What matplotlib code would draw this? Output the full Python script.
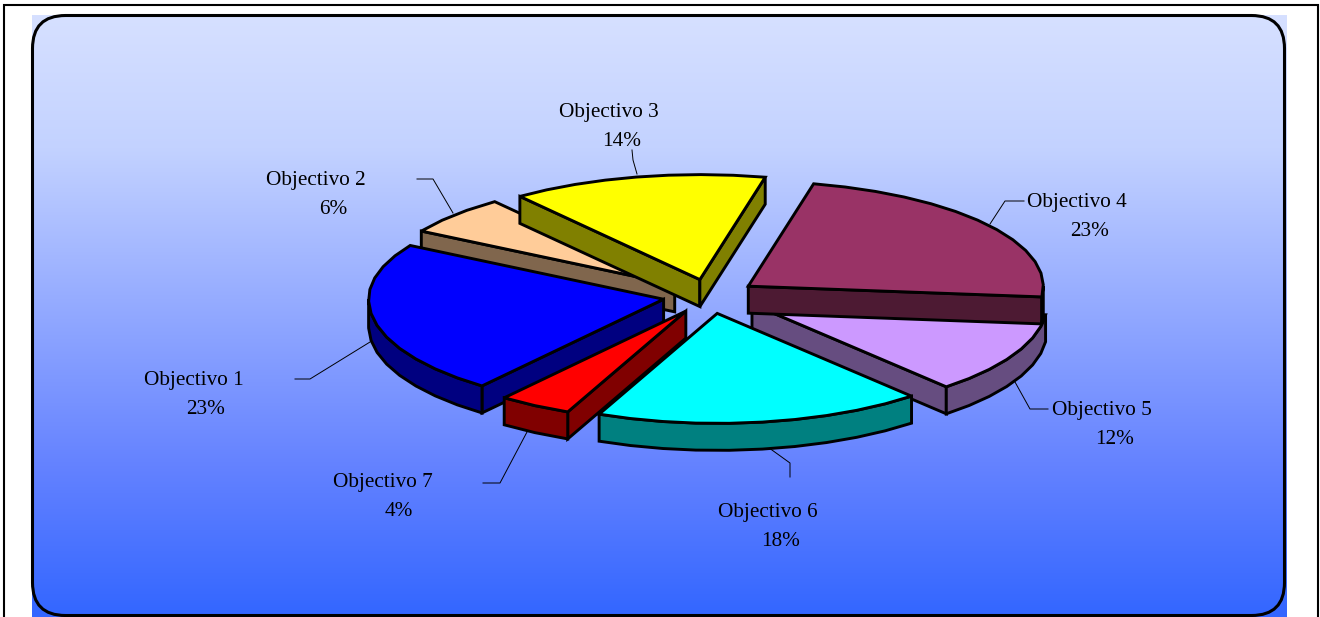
import numpy as np
import matplotlib
matplotlib.use('Agg')
import matplotlib.pyplot as plt
from matplotlib.colors import LinearSegmentedColormap, to_rgb
from matplotlib.patches import FancyBboxPatch, Polygon

plt.rcParams['font.family'] = ['Liberation Serif', 'DejaVu Serif']

names = ['Objectivo 1', 'Objectivo 2', 'Objectivo 3', 'Objectivo 4',
         'Objectivo 5', 'Objectivo 6', 'Objectivo 7']
shares = [23, 6, 14, 23, 12, 18, 4]
top_colors = ['#0000FF', '#FFCC99', '#FFFF00', '#993366', '#CC99FF', '#00FFFF', '#FF0000']

# where the labels sit: name centre x, percent centre x, name y
label_x = [193.5, 316, 609, 1077, 1102, 768, 383]
pct_x = [206, 333, 622, 1090, 1115, 781, 399]
label_y = [380, 180, 112, 202, 410, 512, 482]

leaders = [
    [(295, 379), (310, 379), (370, 342)],
    [(417, 179), (433, 179), (453, 213)],
    [(632, 150), (633, 160), (637, 174)],
    [(1024, 201), (1005, 201), (990, 224)],
    [(1048, 409), (1030, 409), (1015, 382)],
    [(765, 445), (790, 463), (790, 477)],
    [(483, 483), (500, 483), (527, 432)],
]

CX, CY = 710, 296
RX = 295
RY_FRONT, RY_BACK = 110, 105  # the far half looks a bit flatter
DEPTH = 27
EXPLODE = 0.16
START = -128  # degrees, going clockwise
STEP = 6
LW = 2.1
DRAW_ORDER = [1, 2, 0, 4, 3, 6, 5]


def wedge_arcs(values):
    ends = START - np.cumsum(values) / np.sum(values) * 360
    starts = np.r_[START, ends[:-1]]
    return starts, ends


def ellipse_y(t):
    s = np.sin(np.radians(t))
    return -np.where(s > 0, RY_BACK, RY_FRONT) * s


def draw_wedge(ax, t0, t1, color):
    mid = (t0 + t1) / 2
    ox = CX + EXPLODE * RX * np.cos(np.radians(mid))
    oy = CY + EXPLODE * ellipse_y(mid)

    n = max(int(abs(t1 - t0) / STEP), 2) + 1
    t = np.linspace(t0, t1, n)
    x = ox + RX * np.cos(np.radians(t))
    y = oy + ellipse_y(t)

    side = tuple(0.5 * c for c in to_rgb(color))
    style = dict(fc=side, ec='black', lw=LW, joinstyle='miter')

    # cut faces only when they look towards the viewer
    if np.cos(np.radians(t0)) < 0:
        ax.add_patch(Polygon([(ox, oy), (x[0], y[0]), (x[0], y[0] + DEPTH), (ox, oy + DEPTH)], **style))
    if np.cos(np.radians(t1)) > 0:
        ax.add_patch(Polygon([(ox, oy), (x[-1], y[-1]), (x[-1], y[-1] + DEPTH), (ox, oy + DEPTH)], **style))

    # rim, front half of the ellipse only
    tr = np.sort(np.r_[t, -180.0, 0.0, -360.0])
    tr = tr[(tr >= t1) & (tr <= t0)]
    tr = tr[np.sin(np.radians(tr)) < 1e-9]
    if len(tr) > 1:
        rx = ox + RX * np.cos(np.radians(tr))
        ry = oy + ellipse_y(tr)
        ax.add_patch(Polygon(np.r_[np.c_[rx, ry], np.c_[rx[::-1], ry[::-1] + DEPTH]], **style))

    top = np.r_[[[ox, oy]], np.c_[x, y]]
    ax.add_patch(Polygon(top, fc=color, ec='black', lw=LW, joinstyle='miter'))


fig = plt.figure(figsize=(13.2, 6.17), dpi=100)
ax = fig.add_axes([0, 0, 1, 1])

# outer page frame, open at the bottom
ax.plot([4, 4, 1318, 1318], [617, 5, 5, 617], color='black', lw=1.5, solid_joinstyle='miter')

cmap = LinearSegmentedColormap.from_list(
    'bg', [(0, '#D6E0FF'), (0.22, '#C3D2FF'), (0.75, '#6482FF'), (1, '#3366FF')])
ax.imshow(np.linspace(0, 1, 256).reshape(-1, 1), cmap=cmap, aspect='auto',
          extent=(32, 1287, 617, 15), zorder=1)
ax.set_xlim(0, 1320)
ax.set_ylim(617, 0)
ax.axis('off')
ax.add_patch(FancyBboxPatch((32.5, 15.5), 1252, 600, boxstyle='round,pad=0,rounding_size=33',
                            fc='none', ec='black', lw=2.2, zorder=2))

starts, ends = wedge_arcs(shares)

for pts in leaders:
    xs, ys = zip(*pts)
    ax.plot(xs, ys, color='black', lw=0.7, zorder=3)

for i in DRAW_ORDER:
    draw_wedge(ax, starts[i], ends[i], top_colors[i])

for p in ax.patches[1:]:
    p.set_zorder(5)

for name, share, lx, px, ly in zip(names, shares, label_x, pct_x, label_y):
    ax.text(lx, ly, name, ha='center', va='center', fontsize=15.3, color='black', zorder=20)
    ax.text(px, ly + 30, f'{share}%', ha='center', va='center', fontsize=15.3, color='black', zorder=20)

fig.savefig('out.png', dpi=100)
